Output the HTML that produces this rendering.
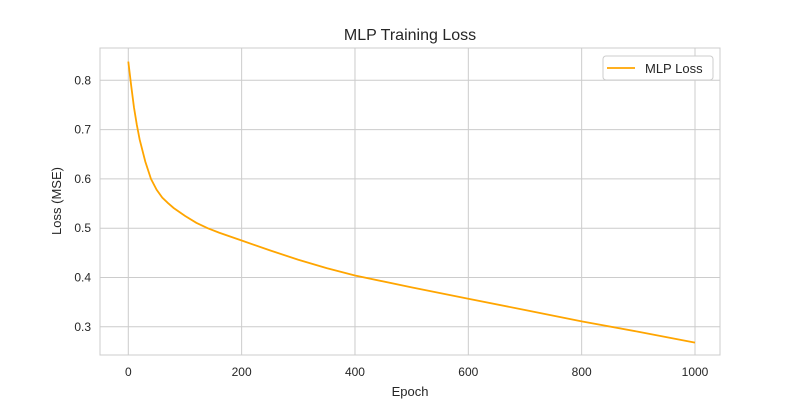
<!DOCTYPE html>
<html><head><meta charset="utf-8"><style>
body{margin:0;background:#fff;}
svg{display:block;font-family:"Liberation Sans",Arial,sans-serif;}
</style></head><body>
<svg id="chart" width="800" height="400">
<rect x="0" y="0" width="800" height="400" fill="#fff"/>
<g id="grid"></g>
<rect x="100" y="48" width="620" height="307" fill="none" stroke="#cccccc" stroke-width="1"/>
<g id="ticks"></g>
<path id="line" fill="none" stroke="#ffa500" stroke-width="1.8"/>
<text x="410" y="40" text-anchor="middle" font-size="16" fill="#262626">MLP Training Loss</text>
<text x="410" y="396" text-anchor="middle" font-size="13" fill="#262626">Epoch</text>
<text transform="translate(61,201) rotate(-90)" text-anchor="middle" font-size="13" fill="#262626">Loss (MSE)</text>
<g>
<rect x="603" y="56" width="110" height="24" rx="3" fill="#fff" stroke="#cccccc"/>
<line x1="607" y1="68" x2="635" y2="68" stroke="#ffa500" stroke-width="1.8"/>
<text x="645" y="73" font-size="13" fill="#262626">MLP Loss</text>
</g>
</svg>
<script>
const epochs=[0,5,10,15,20,30,40,50,60,70,80,100,120,140,160,200,250,300,350,400,500,600,700,800,900,1000];
const losses=[0.838,0.79,0.745,0.71,0.68,0.635,0.60,0.578,0.562,0.551,0.541,0.525,0.511,0.500,0.491,0.475,0.455,0.436,0.419,0.404,0.38,0.357,0.334,0.311,0.29,0.268];
const xTicks=[0,200,400,600,800,1000];
const yTicks=[0.3,0.4,0.5,0.6,0.7,0.8];
const X=v=>128.3+v*0.5667;
const Y=v=>80.3-(v-0.8)*493;
const NS="http://www.w3.org/2000/svg";
const grid=document.getElementById('grid'),ticks=document.getElementById('ticks');
xTicks.forEach(t=>{
 const l=document.createElementNS(NS,'line');
 l.setAttribute('x1',X(t));l.setAttribute('x2',X(t));l.setAttribute('y1',48);l.setAttribute('y2',355);
 l.setAttribute('stroke','#cccccc');
 
 
 grid.appendChild(l);
 const tx=document.createElementNS(NS,'text');
 tx.setAttribute('x',X(t));tx.setAttribute('y',376);tx.setAttribute('text-anchor','middle');
 tx.setAttribute('font-size','12');tx.setAttribute('fill','#262626');tx.textContent=t;
 
 
 ticks.appendChild(tx);
});
yTicks.forEach(t=>{
 const l=document.createElementNS(NS,'line');
 l.setAttribute('x1',100);l.setAttribute('x2',720);l.setAttribute('y1',Y(t));l.setAttribute('y2',Y(t));
 l.setAttribute('stroke','#cccccc');
 
 
 grid.appendChild(l);
 const tx=document.createElementNS(NS,'text');
 tx.setAttribute('x',91);tx.setAttribute('y',Y(t)+4);tx.setAttribute('text-anchor','end');
 tx.setAttribute('font-size','12');tx.setAttribute('fill','#262626');tx.textContent=t.toFixed(1);
 
 
 ticks.appendChild(tx);
});
document.getElementById('line').setAttribute('d',epochs.map((e,i)=>(i?'L':'M')+X(e).toFixed(2)+','+Y(losses[i]).toFixed(2)).join(''));
</script>
</body></html>
